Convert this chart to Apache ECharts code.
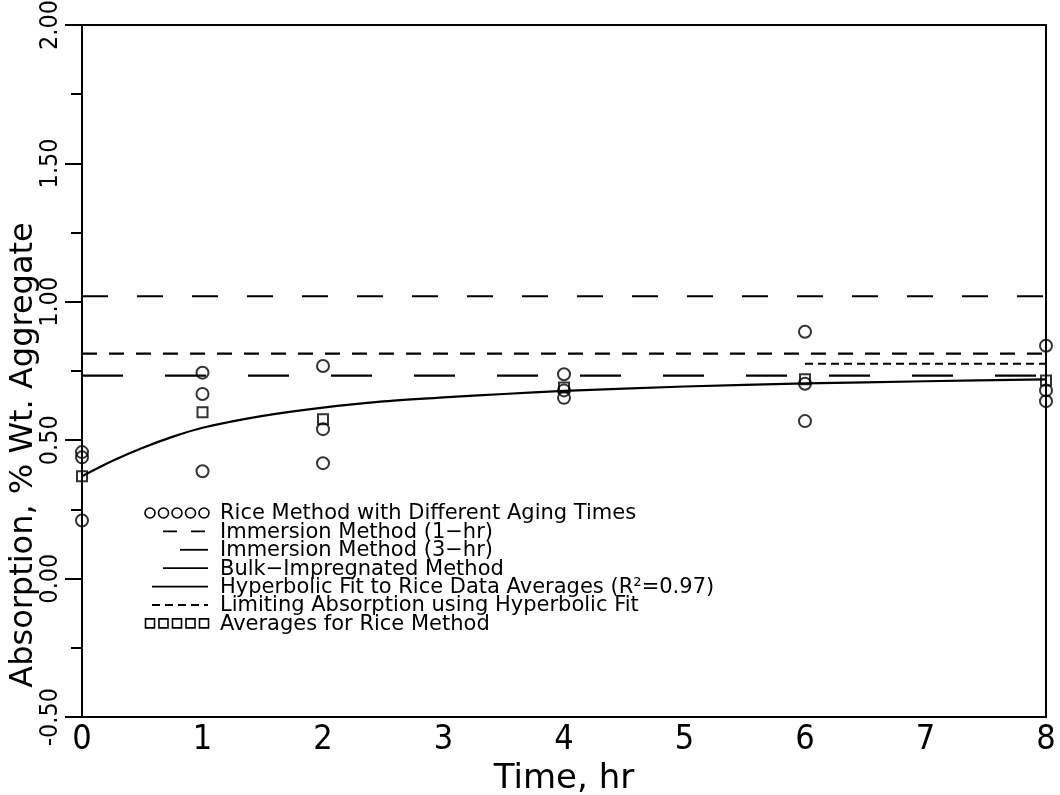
<!DOCTYPE html>
<html>
<head>
<meta charset="utf-8">
<script src="https://cdn.jsdelivr.net/npm/echarts@6/dist/echarts.min.js"></script>
<style>
  html, body { margin: 0; padding: 0; background: #fff; }
  #absorptionChart { width: 1060px; height: 795px; }
</style>
</head>
<body>
<div id="absorptionChart"></div>
<script>
// rice method, three specimens per aging time
var riceTimes = [0, 0, 0, 1, 1, 1, 2, 2, 2, 4, 4, 4, 6, 6, 6, 8, 8, 8];
var riceValues = [0.457, 0.438, 0.21, 0.744, 0.667, 0.388, 0.768, 0.54, 0.417,
  0.738, 0.68, 0.653, 0.892, 0.704, 0.569, 0.841, 0.68, 0.641];

// averages for rice method
var avgTimes = [0, 1, 2, 4, 6, 8];
var avgValues = [0.37, 0.601, 0.576, 0.69, 0.72, 0.716];

// hyperbolic fit
var fitTimes = [0, 0.25, 0.5, 0.75, 1, 1.5, 2, 2.5, 3, 3.5, 4, 5, 6, 7, 8];
var fitValues = [0.37, 0.425, 0.472, 0.512, 0.545, 0.588, 0.618, 0.64, 0.655, 0.667, 0.678, 0.694, 0.705, 0.713, 0.72];

var immersion1hr = 0.813;
var immersion3hr = 1.02;
var bulkImpregnated = 0.733;
var limitingAbs = 0.776;
var limitingRange = [6, 8];
var timeRange = [0, 8];

var legendNames = [
  "Rice Method with Different Aging Times",
  "Immersion Method (1\u2212hr)",
  "Immersion Method (3\u2212hr)",
  "Bulk\u2212Impregnated Method",
  "Hyperbolic Fit to Rice Data Averages (R\u00b2=0.97)",
  "Limiting Absorption using Hyperbolic Fit",
  "Averages for Rice Method"
];

function pairs(xs, ys) {
  return xs.map(function (x, i) { return [x, ys[i]]; });
}
function hline(v, range) {
  return [[range[0], v], [range[1], v]];
}

var chart = echarts.init(document.getElementById("absorptionChart"));

var numFont = "'Liberation Sans Narrow', 'DejaVu Sans Condensed', 'Liberation Sans', sans-serif";
var txtFont = "'DejaVu Sans', sans-serif";

// legend built by hand: samples to the left of the text
var lgX = 220, lgY = 513, lgStep = 18.4, sampleRight = 208;
var legendParts = [];
legendNames.forEach(function (name, i) {
  legendParts.push({
    type: "text", x: lgX, y: lgY + i * lgStep + 1,
    style: { text: name, fill: "#000", font: "21px " + txtFont, textVerticalAlign: "middle" }
  });
});
function lgLine(row, x1, dash) {
  return {
    type: "line",
    shape: { x1: x1, y1: lgY + row * lgStep, x2: sampleRight, y2: lgY + row * lgStep },
    style: { stroke: "#000", lineWidth: 1.8, lineDash: dash || null }
  };
}
for (var k = 0; k < 5; k++) {
  legendParts.push({ type: "circle", shape: { cx: 150 + k * 13.5, cy: lgY, r: 5 },
    style: { fill: "none", stroke: "#000", lineWidth: 1.6 } });
  legendParts.push({ type: "rect", shape: { x: 145.5 + k * 13.5, y: lgY + 6 * lgStep - 4.5, width: 9, height: 9 },
    style: { fill: "none", stroke: "#000", lineWidth: 1.6 } });
}
legendParts.push(lgLine(1, 163, [14, 14]));
legendParts.push(lgLine(2, 180));
legendParts.push(lgLine(3, 163));
legendParts.push(lgLine(4, 152));
legendParts.push(lgLine(5, 152, [8, 5]));

chart.setOption({
  backgroundColor: "#fff",
  animation: false,
  grid: { left: 82, right: 14, top: 25, bottom: 78, containLabel: false, outerBoundsMode: "none" },
  xAxis: [{
    type: "value",
    min: 0, max: 8, interval: 1,
    name: "Time, hr",
    nameLocation: "middle",
    nameGap: 44,
    nameTextStyle: { color: "#000", fontSize: 34, fontFamily: txtFont },
    axisLine: { onZero: false, lineStyle: { color: "#000", width: 2 } },
    axisTick: { show: false },
    axisLabel: { color: "#000", fontSize: 34, fontFamily: numFont, margin: 6 },
    splitLine: { show: false }
  }, {
    type: "value", position: "top",
    min: 0, max: 8,
    axisLine: { show: true, onZero: false, lineStyle: { color: "#000", width: 2 } },
    axisTick: { show: false }, axisLabel: { show: false }, splitLine: { show: false }
  }],
  yAxis: [{
    type: "value",
    min: -0.5, max: 2, interval: 0.5,
    axisLine: { show: true, onZero: false, lineStyle: { color: "#000", width: 2 } },
    axisTick: { show: true, length: 17, lineStyle: { color: "#000", width: 2 } },
    minorTick: { show: true, splitNumber: 2, length: 11, lineStyle: { color: "#000", width: 2 } },
    axisLabel: {
      color: "#000", fontSize: 25, fontFamily: numFont, rotate: 90, margin: 19,
      formatter: function (v) { return v.toFixed(2); }
    },
    splitLine: { show: false }
  }, {
    type: "value", position: "right",
    min: -0.5, max: 2,
    axisLine: { show: true, onZero: false, lineStyle: { color: "#000", width: 2 } },
    axisTick: { show: false }, axisLabel: { show: false }, splitLine: { show: false }
  }],
  graphic: [{
    type: "text",
    x: 24, y: 455, rotation: Math.PI / 2,
    style: {
      text: "Absorption, % Wt. Aggregate", fill: "#000",
      font: "32px " + txtFont, textAlign: "center", textVerticalAlign: "middle"
    }
  }].concat(legendParts),
  series: [
    {
      name: legendNames[2], type: "line", symbol: "none", silent: true,
      data: hline(immersion3hr, timeRange),
      lineStyle: { color: "#000", width: 2.2, type: [26, 29] }
    },
    {
      name: legendNames[1], type: "line", symbol: "none", silent: true,
      data: hline(immersion1hr, timeRange),
      lineStyle: { color: "#000", width: 2.2, type: [15, 12] }
    },
    {
      name: legendNames[3], type: "line", symbol: "none", silent: true,
      data: hline(bulkImpregnated, timeRange),
      lineStyle: { color: "#000", width: 2.2, type: [41, 42] }
    },
    {
      name: legendNames[5], type: "line", symbol: "none", silent: true,
      data: hline(limitingAbs, limitingRange),
      lineStyle: { color: "#000", width: 2, type: [8, 5] }
    },
    {
      name: legendNames[4], type: "line", symbol: "none", smooth: 0.3, silent: true,
      data: pairs(fitTimes, fitValues),
      lineStyle: { color: "#000", width: 2.2 }
    },
    {
      name: legendNames[0], type: "scatter", symbol: "circle", symbolSize: 12,
      data: pairs(riceTimes, riceValues),
      itemStyle: { color: "rgba(0,0,0,0)", borderColor: "#000", borderWidth: 2 }
    },
    {
      name: legendNames[6], type: "scatter", symbol: "rect", symbolSize: 10,
      data: pairs(avgTimes, avgValues),
      itemStyle: { color: "rgba(0,0,0,0)", borderColor: "#000", borderWidth: 2 }
    }
  ]
});
</script>
</body>
</html>
